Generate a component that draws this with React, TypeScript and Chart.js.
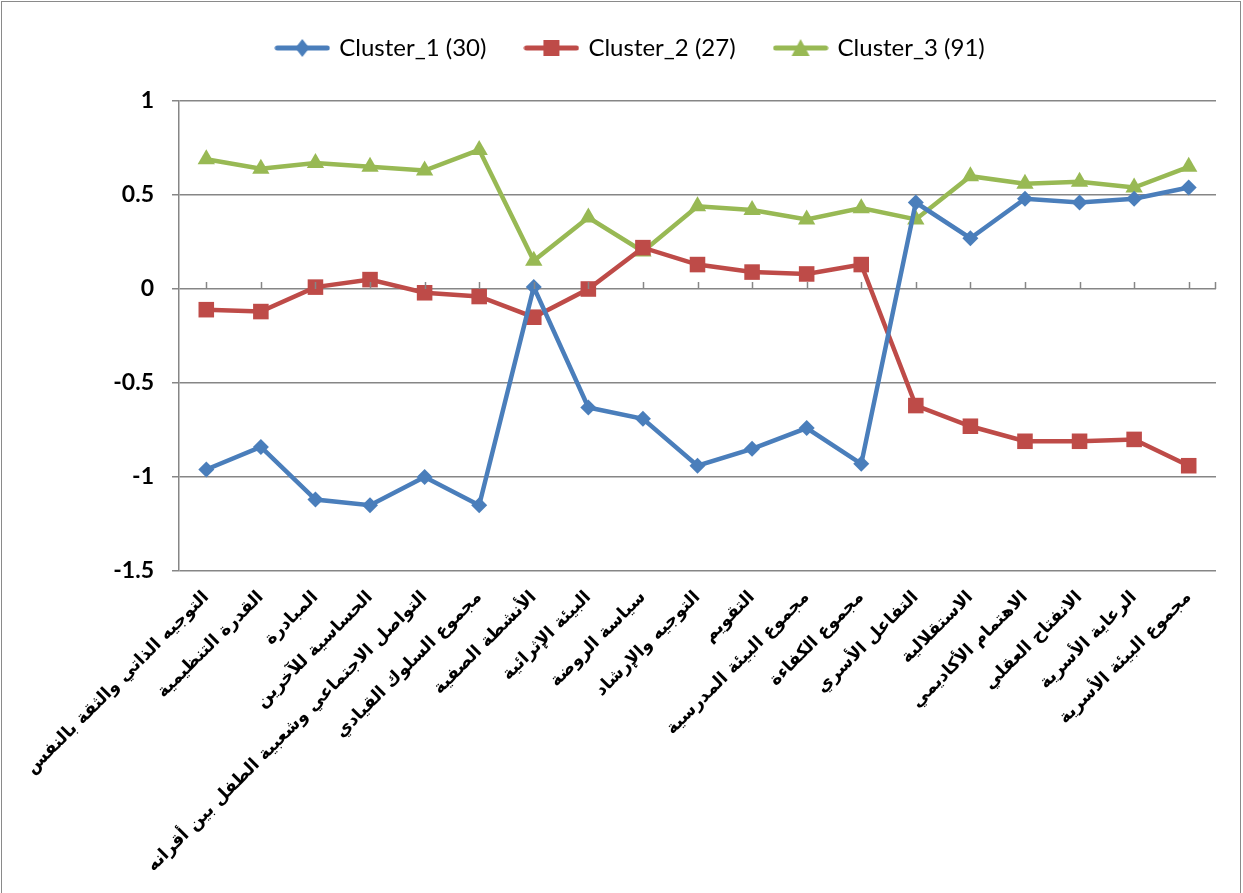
import React, { useEffect, useRef } from "react";
import { Chart, registerables } from "chart.js";

Chart.register(...registerables);

const categories: string[] = [
  "التوجيه الذاتي والثقة بالنفس",
  "القدرة التنظيمية",
  "المبادرة",
  "الحساسية للآخرين",
  "التواصل الاجتماعي وشعبية الطفل بين أقرانه",
  "مجموع السلوك القيادي",
  "الأنشطة الصفية",
  "البيئة الإثرائية",
  "سياسة الروضة",
  "التوجيه والإرشاد",
  "التقويم",
  "مجموع البيئة المدرسية",
  "مجموع الكفاءة",
  "التفاعل الأسري",
  "الاستقلالية",
  "الاهتمام الأكاديمي",
  "الانفتاح العقلي",
  "الرعاية الأسرية",
  "مجموع البيئة الأسرية",
];

const cluster1: number[] = [-0.96, -0.84, -1.12, -1.15, -1.0, -1.15, 0.01, -0.63, -0.69, -0.94, -0.85, -0.74, -0.93, 0.46, 0.27, 0.48, 0.46, 0.48, 0.54];
const cluster2: number[] = [-0.11, -0.12, 0.01, 0.05, -0.02, -0.04, -0.15, 0.0, 0.22, 0.13, 0.09, 0.08, 0.13, -0.62, -0.73, -0.81, -0.81, -0.8, -0.94];
const cluster3: number[] = [0.69, 0.64, 0.67, 0.65, 0.63, 0.74, 0.15, 0.38, 0.2, 0.44, 0.42, 0.37, 0.43, 0.37, 0.6, 0.56, 0.57, 0.54, 0.65];

const seriesNames: string[] = ["Cluster_1 (30)", "Cluster_2 (27)", "Cluster_3 (91)"];
const seriesColors: string[] = ["#4A7EBB", "#BE4B48", "#98B954"];
const yTicks: number[] = [-1.5, -1, -0.5, 0, 0.5, 1];

function legendIcon(color: string, kind: string): HTMLCanvasElement {
  const c = document.createElement("canvas");
  c.width = 56;
  c.height = 22;
  const ctx = c.getContext("2d")!;
  ctx.strokeStyle = color;
  ctx.lineWidth = 5;
  ctx.lineCap = "round";
  ctx.beginPath();
  ctx.moveTo(3, 11);
  ctx.lineTo(53, 11);
  ctx.stroke();
  ctx.fillStyle = color;
  ctx.beginPath();
  if (kind === "diamond") {
    ctx.moveTo(28, 2);
    ctx.lineTo(35, 11);
    ctx.lineTo(28, 20);
    ctx.lineTo(21, 11);
  } else if (kind === "square") {
    ctx.rect(20, 3, 16, 16);
  } else {
    ctx.moveTo(28, 2);
    ctx.lineTo(37, 19);
    ctx.lineTo(19, 19);
  }
  ctx.closePath();
  ctx.fill();
  return c;
}

const TOP_PAD = 12;
const PLOT_TOP = 101;
const LEGEND_SHIFT_X = 23;
const LEGEND_SHIFT_Y = -16;

export default function App() {
  const ref = useRef<HTMLCanvasElement | null>(null);

  useEffect(() => {
    if (!ref.current) return;
    const icons = [
      legendIcon(seriesColors[0], "diamond"),
      legendIcon(seriesColors[1], "square"),
      legendIcon(seriesColors[2], "triangle"),
    ];

    const legendHeight = {
      id: "legendHeight",
      beforeInit(chart: any) {
        const orig = chart.legend.fit;
        chart.legend.fit = function () {
          orig.bind(chart.legend)();
          this.height = PLOT_TOP - TOP_PAD;
        };
      },
      afterLayout(chart: any) {
        chart.legend.left += LEGEND_SHIFT_X;
        chart.legend.right += LEGEND_SHIFT_X;
        chart.legend.top += LEGEND_SHIFT_Y;
        chart.legend.bottom += LEGEND_SHIFT_Y;
      },
    };

    const zeroTicks = {
      id: "zeroTicks",
      afterDatasetsDraw(chart: any) {
        const { ctx, scales } = chart;
        const x = scales.x;
        const y0 = scales.y.getPixelForValue(0);
        ctx.save();
        ctx.strokeStyle = "#868686";
        ctx.lineWidth = 1.5;
        ctx.beginPath();
        for (let i = 0; i < categories.length; i++) {
          const px = Math.round(x.getPixelForValue(i)) + 0.5;
          ctx.moveTo(px, y0 - 7);
          ctx.lineTo(px, y0);
        }
        const right = Math.round(chart.chartArea.right) - 0.5;
        ctx.moveTo(right, y0 - 7);
        ctx.lineTo(right, y0);
        ctx.stroke();
        ctx.restore();
      },
    };

    const chart = new Chart(ref.current, {
      type: "line",
      data: {
        labels: categories,
        datasets: [
          {
            label: seriesNames[0],
            data: cluster1,
            borderColor: seriesColors[0],
            backgroundColor: seriesColors[0],
            borderWidth: 4.5,
            pointStyle: "rectRot",
            pointRadius: 8,
            pointBorderWidth: 0,
            tension: 0,
          },
          {
            label: seriesNames[1],
            data: cluster2,
            borderColor: seriesColors[1],
            backgroundColor: seriesColors[1],
            borderWidth: 4.5,
            pointStyle: "rect",
            pointRadius: 11,
            pointBorderWidth: 0,
            tension: 0,
          },
          {
            label: seriesNames[2],
            data: cluster3,
            borderColor: seriesColors[2],
            backgroundColor: seriesColors[2],
            borderWidth: 4.5,
            pointStyle: "triangle",
            pointRadius: 10,
            pointBorderWidth: 0,
            tension: 0,
          },
        ],
      },
      options: {
        animation: false,
        responsive: false,
        maintainAspectRatio: false,
        layout: { padding: { top: TOP_PAD, right: 27, left: 0, bottom: 0 } },
        plugins: {
          tooltip: { enabled: false },
          legend: {
            position: "top",
            labels: {
              usePointStyle: true,
              pointStyleWidth: 50,
              padding: 40,
              color: "#000",
              font: { family: "Lato, 'Open Sans', sans-serif", size: 24 },
              generateLabels: (ch: any) =>
                ch.data.datasets.map((d: any, i: number) => ({
                  text: d.label,
                  pointStyle: icons[i],
                  fillStyle: seriesColors[i],
                  strokeStyle: seriesColors[i],
                  lineWidth: 0,
                  hidden: false,
                  datasetIndex: i,
                  fontColor: "#000",
                })),
            },
          },
        },
        scales: {
          x: {
            type: "category",
            offset: true,
            grid: { display: false, drawTicks: false },
            border: { display: false },
            ticks: {
              autoSkip: false,
              minRotation: 45,
              maxRotation: 45,
              padding: 16,
              color: "#000",
              font: { family: "'DejaVu Sans', sans-serif", size: 17.5, weight: "bold" },
            },
            afterFit: (s: any) => {
              s.height = 893 - 571;
            },
          },
          y: {
            min: -1.5,
            max: 1,
            afterBuildTicks: (s: any) => {
              s.ticks = yTicks.map((v) => ({ value: v }));
            },
            grid: { color: "#868686", lineWidth: 1.5, tickLength: 7 },
            border: { color: "#868686", width: 1.5 },
            ticks: {
              padding: 18,
              color: "#000",
              font: { family: "Lato, sans-serif", size: 23, weight: "bold" },
              callback: (v: any) => String(v),
            },
            afterFit: (s: any) => {
              s.width = 179;
            },
          },
        },
      },
      plugins: [legendHeight, zeroTicks],
    });
    return () => chart.destroy();
  }, []);

  return (
    <div style={{ position: "absolute", left: 0, top: 0, width: 1243, height: 893, background: "#fff" }}>
      <canvas ref={ref} width={1243} height={893} style={{ position: "absolute", left: 0, top: 0 }} />
      <div
        style={{
          position: "absolute",
          left: 1,
          top: 1,
          width: 1238,
          height: 892,
          borderTop: "1.5px solid #8a8a8a",
          borderLeft: "1.5px solid #8a8a8a",
          borderRight: "1.5px solid #8a8a8a",
          pointerEvents: "none",
        }}
      />
    </div>
  );
}
